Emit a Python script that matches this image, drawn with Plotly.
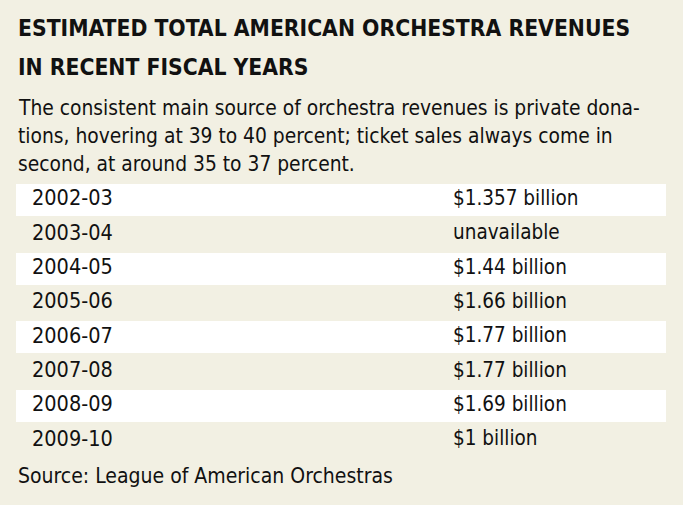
import plotly.graph_objects as go

W, H = 683, 505
BG = "#f2f0e3"
INK = "#111111"
FONT = "DejaVu Sans Condensed, Liberation Sans, sans-serif"
TFONT = "DejaVu Sans Condensed, Liberation Sans, sans-serif"

title_lines = ["ESTIMATED TOTAL AMERICAN ORCHESTRA REVENUES", "IN RECENT FISCAL YEARS"]
subtitle_lines = [
    "The consistent main source of orchestra revenues is private dona-",
    "tions, hovering at 39 to 40 percent; ticket sales always come in",
    "second, at around 35 to 37 percent.",
]
years = ["2002-03", "2003-04", "2004-05", "2005-06", "2006-07", "2007-08", "2008-09", "2009-10"]
revenues = ["$1.357 billion", "unavailable", "$1.44 billion", "$1.66 billion",
            "$1.77 billion", "$1.77 billion", "$1.69 billion", "$1 billion"]
source = "Source: League of American Orchestras"

# layout helpers (pixel geometry)
row0, pitch = 200, 34.33
def py(p):
    return 1 - p / H

striped = [y for i, y in enumerate(years) if i % 2 == 0]

fig = go.Figure()
fig.add_trace(go.Bar(
    y=striped, x=[650] * len(striped), base=16, orientation="h",
    width=32 / pitch, marker=dict(color="white", line=dict(width=0)),
    hoverinfo="skip", showlegend=False,
))
fig.add_trace(go.Scatter(
    x=[32] * len(years), y=years, mode="text", text=years,
    textposition="middle right", textfont=dict(family=FONT, size=21.5, color=INK),
    hoverinfo="skip", showlegend=False,
))
fig.add_trace(go.Scatter(
    x=[453] * len(years), y=years, mode="text", text=revenues,
    textposition="middle right", textfont=dict(family=FONT, size=20.5, color=INK),
    hoverinfo="skip", showlegend=False,
))

ann = []
for i, t in enumerate(title_lines):
    ann.append(dict(text="<b>" + t + "</b>", x=16 / W, y=py(28 + 39 * i), xref="paper", yref="paper",
                    xanchor="left", yanchor="middle", showarrow=False,
                    font=dict(family=TFONT, size=22.7, color=INK)))
for i, t in enumerate(subtitle_lines):
    ann.append(dict(text=t, x=16 / W, y=py(108 + 28 * i), xref="paper", yref="paper",
                    xanchor="left", yanchor="middle", showarrow=False,
                    font=dict(family=FONT, size=20.8, color=INK)))
ann.append(dict(text=source, x=16 / W, y=py(476), xref="paper", yref="paper",
                xanchor="left", yanchor="middle", showarrow=False,
                font=dict(family=FONT, size=21, color=INK)))

fig.update_layout(
    width=W, height=H, margin=dict(l=0, r=0, t=0, b=0),
    paper_bgcolor=BG, plot_bgcolor=BG,
    xaxis=dict(range=[0, W], visible=False, fixedrange=True),
    yaxis=dict(type="category", categoryarray=years,
               range=[(H - row0) / pitch, -row0 / pitch], visible=False, fixedrange=True),
    annotations=ann, bargap=0,
)
fig.write_html(
    "out.html",
    config={"displayModeBar": False},
    post_script="document.body.style.margin='0';document.body.style.background='%s';" % BG,
)
